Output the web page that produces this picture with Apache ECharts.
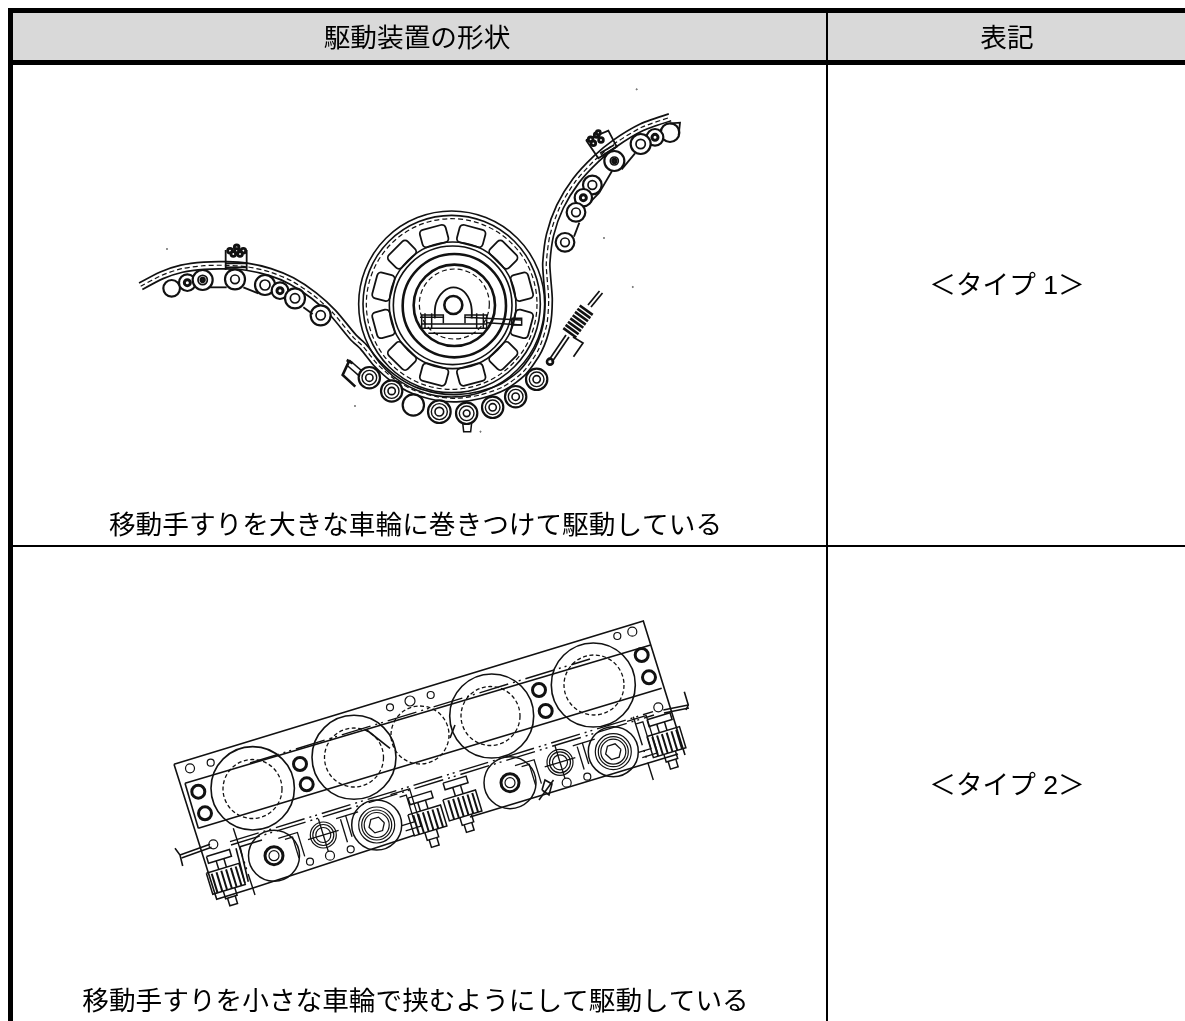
<!DOCTYPE html>
<html lang="ja">
<head>
<meta charset="utf-8">
<title>駆動装置の形状</title>
<style>html,body{margin:0;padding:0;background:#fff}#c{width:1185px;height:1021px}</style>
<script src="https://cdn.jsdelivr.net/npm/echarts@6/dist/echarts.min.js"></script>
</head>
<body>
<div id="c"></div>
<script>
// ---------- table ----------
const headerFill = [[13,13,1185,60]];
const tableBars = [[8,8,1185,13],[8,8,13,1021],[8,60,1185,65],[826,13,828,1021],[13,545,1185,547]];
const tableTexts = [
  ['駆動装置の形状',417,40],['表記',1007,40],
  ['＜タイプ 1＞',1007,287],['＜タイプ 2＞',1007,787],
  ['移動手すりを大きな車輪に巻きつけて駆動している',415.5,527],
  ['移動手すりを小さな車輪で挟むようにして駆動している',415.5,1003]
];
// ---------- type 1: handrail centre line ----------
const railCentre = [[140.7,286.3],[161.7,275.3],[181.7,268.7],[204,265.7],[226.7,265.3],[246.7,266.7],[270,272],[291.7,281],[314,295.7],[333.3,313.3],[353.3,337.3],[363.3,346.7],[376.7,363.3],[393.3,378.3],[413.3,390],[436.7,396.7],[456.7,398.3],[480,395],[503.3,386.7],[523.3,371.7],[538.3,350],[546.7,325],[548.7,300],[547,276.7],[546.3,263],[550,235],[560,206.7],[576,180.7],[596,159],[615,143.3],[641.7,127.3],[670,117.3]];
// ---------- type 1: wheel (3x crop units) ----------
const wheelRings = [[335,312,279],[335,312,266],[338,316,190],[338,316,178]];
const wheelHeavyRings = [[343,317,155],[343,316,122],[340,315,27],[630,485,9]];
const wheelDashRings = [[335,312,256],[343,312,105]];
const windowAngles = [15,45,75,105,135,165,195,225,255,285,315,345];
const wheelLines = [
  [[240,352],[310,352],[310,345],[245,345],[245,385],[440,385],[440,345],[375,345],[375,352],[545,360]],
  [[245,372],[440,372]],[[440,368],[545,375]],[[515,355],[545,355],[545,375],[515,375],[515,355]],
  [[255,340],[255,385]],[[275,340],[275,385]],[[410,340],[410,385]],[[430,340],[430,385]],
  [[310,352],[310,370]],[[375,352],[375,370]],[[265,400],[430,400]],
  [[28,480],[68,515]],[[20,495],[60,530]],[[68,515],[60,530]],[[368,668],[395,668],[392,695],[371,695],[368,668]]
];
const hubArch = [[[285,355],[288,310],[310,275],[340,262],[372,275],[392,310],[395,355]]];
const wheelHeavyLines = [[[28,482],[8,525],[46,560]],[[20,480],[38,490]]];
const wheelRollers = [[88,533,32],[155,573,32],[220,615,32],[298,635,34],[380,640,32],[458,622,32],[527,590,32],[590,538,32]];
const wheelRollerMid = [[88,533,22],[155,573,22],[298,635,24],[380,640,22],[458,622,22],[527,590,22],[590,538,22]];
const wheelRollerInner = [[88,533,11],[155,573,11],[298,635,13],[380,640,10],[458,622,11],[527,590,11],[590,538,11]];
// ---------- type 1: left arm (3x crop units) ----------
const leftRollers = [[125,175,25],[172,158,25],[218,150,30],[315,148,30],[405,165,30],[450,182,25],[495,205,30],[572,256,30]];
const leftRollerInner = [[218,150,14],[315,148,13],[405,165,15],[495,205,14],[572,256,14]];
const leftRollerBold = [[172,158,9],[218,150,5],[450,182,9]];
const leftLines = [[[235,172],[290,172]],[[340,172],[385,190]],[[520,232],[548,252]],[[287,60],[287,120]],[[350,60],[350,120]],[[287,100],[350,100]],[[287,112],[350,112]]];
const leftBolts = [[300,62,7],[320,52,7],[340,62,7],[310,72,7],[330,72,7],[320,62,6]];
// ---------- type 1: right arm (3x crop units) ----------
const rightRollers = [[510,128,28],[465,142,25],[422,162,30],[343,213,30],[277,285,28],[250,323,26],[228,367,28],[195,457,28]];
const rightRollerInner = [[422,162,14],[343,213,12],[277,285,13],[228,367,13],[195,457,13]];
const rightRollerBold = [[465,142,9],[250,323,9],[343,213,5]];
const rightLines = [[[222,440],[238,398]],[[272,335],[298,308]],[[298,308],[336,243]],[[365,238],[405,190]],[[258,150],[325,122],[350,170],[295,205],[258,150]],[[300,190],[342,165]],[[305,198],[347,172]],[[510,100],[540,98],[536,135]]];
const rightBolts = [[272,148,7],[290,135,7],[303,150,7],[280,160,7],[295,128,6]];
// ---------- type 1: tensioner spring (px) ----------
const springCoils = [[[563.3,328.1],[576.3,337.5]],[[565.6,324.9],[578.6,334.3]],[[568,321.7],[581,331.1]],[[570.3,318.4],[583.3,327.8]],[[572.7,315.2],[585.7,324.6]],[[575,311.9],[588,321.3]],[[577.4,308.7],[590.4,318.1]],[[579.7,305.5],[592.7,314.9]]];
const springLines = [[[549,360],[566,335]],[[552,362],[569,337]],[[588,305],[599.5,291]],[[591,307],[602.5,293]],[[573,337],[583,343],[573.5,356.7]]];
const specks = [[636.7,89.3],[167,249],[604,238],[632.8,287],[355,406],[480.5,431.7]];
// ---------- type 2: drive plate (px) ----------
const plateLines = [
  [[174,764.3],[643.3,621],[685,755]],[[174,764.3],[216.7,899.3],[253,888],[415,835]],[[470,817],[678,754]],
  [[185,783.3],[650.7,645]],[[198.3,828.3],[661.7,688.3]],[[185,783.3],[198.3,828.3]],
  [[236,848.3],[245,883.3]],[[240,846.7],[248.3,881.7]],[[240,846.7],[262,840]],
  [[180,855],[210,844.3]],[[181.5,858],[211.5,847.3]],[[175,848.3],[180,855],[182.7,866]],
  [[663.3,710],[688.3,705]],[[664,713],[689,708]],[[684.3,691.7],[688.3,705],[686,710]],
  [[366.7,730],[390,748.3]],[[455,725],[450,738]],[[539,800],[553.5,780]],[[542,790],[549,795],[552,784],[545,780],[542,790]]
];
const plateDashLines = [[[230,841.7],[653,711.7]],[[231,845],[654,715]],[[250,763],[590,659]],[[233.3,828.3],[255,895]],[[633.3,716.7],[653.3,780]]];
const driveWheels = [[252.7,788.3,41.7],[354,757.3,42],[491.7,716,42],[593.3,685,42]];
const pinchWheels = [[274,855.7,25.5],[376.7,825,25],[510,782.7,26],[613.3,751.7,25]];
const dashWheels = [[252.5,789,29.5],[354,757.5,29.5],[420,735,29],[490.5,716,29.5],[594,685,30]];
const boldHoles = [[198.3,791.7,6.5],[205,813.3,6.5],[300,764,6.5],[306.7,784.3,6.5],[539,690,6.5],[545.7,711,6.5],[641.7,655,6.5],[649,677.3,6.5],[274,855.7,9],[510,782.7,9]];
const thinHoles = [[190,768.3,4.5],[210.7,762.7,3.5],[390,707.3,3.5],[410,701,5],[430.7,695,3.5],[617.3,636,3.5],[632.3,631.7,4.5],[310,861.7,3.5],[330,855.7,4.5],[350.7,849.3,3.5],[566.7,782.7,4.5],[587.3,776.7,3.5],[213.3,844.3,4.5],[658.3,707.3,4.5],[274,855.7,5],[510,782.7,5],[376.7,825,18],[376.7,825,15],[376.7,825,12.5],[613.3,751.7,18],[613.3,751.7,15],[613.3,751.7,12.5],[323.3,835,13],[323.3,835,10.5],[323.3,835,7.5],[560,762.3,13],[560,762.3,10.5],[560,762.3,7.5]];
const clampCentres = [[226.7,881.7],[428.3,823.3],[463.3,808.3],[667.3,745]];
const clampShape = [
  [[-12,-30],[12,-30],[12,-23],[-12,-23],[-12,-30]],[[-4,-23],[-4,-14]],[[4,-23],[4,-14]],
  [[-17,-14],[17,-14],[17,8],[-17,8],[-17,-14]],[[-6,8],[-6,16],[6,16],[6,8]],[[-4,16],[-4,24],[4,24],[4,16]]
];
const clampFins = [[[-12,-12],[-12,8]],[[-7,-12],[-7,8]],[[-2,-12],[-2,8]],[[3,-12],[3,8]],[[8,-12],[8,8]],[[13,-12],[13,8]]];
const boltCentres = [[323.3,835],[560,762.3]];
const boltShape = [[[-16,0],[16,0]],[[0,-17],[0,17]],[[-44,-10],[-24,-10],[-24,15]],[[-38,-7],[-30,-7],[-30,15]],[[17,-12],[40,-12]],[[21,-10],[21,14]],[[27,-12],[27,10]]];
const hubCentres = [[376.7,825],[613.3,751.7]];
const hubShape = [[[8,0],[4,-7],[-4,-7],[-8,0],[-4,7],[4,7],[8,0]],[[22,-25],[42,-25],[42,14],[26,14]],[[30,-20],[37,-20],[37,8],[24,8]]];

// ---------- drawing helpers ----------
const INK = '#111';
const grids = [[0,0,1185,1021,1],[340,200,240,240,3],[130,230,240,180,3],[500,90,200,240,3]];
const T = 0, W = 1, L = 2, R = 3;
const axisBase = {type:'value',show:false,scale:true,splitLine:{show:false}};
function place(c, s, t){ return [c[0] + s*0.9565 + t*0.2918, c[1] - s*0.2918 + t*0.9565]; }
function stamp(centres, shape){ return centres.flatMap(c => shape.map(line => line.map(p => place(c,p[0],p[1])))); }
function offsetLine(pts, d){
  return pts.map((p,i) => {
    const a = pts[Math.max(i-1,0)], b = pts[Math.min(i+1,pts.length-1)];
    const dx = b[0]-a[0], dy = b[1]-a[1], n = Math.hypot(dx,dy) || 1;
    return [p[0]-dy/n*d, p[1]+dx/n*d];
  });
}
function custom(grid, rows, renderOne){
  return {type:'custom',xAxisIndex:grid,yAxisIndex:grid,coordinateSystem:'cartesian2d',silent:true,clip:false,
    data:rows.map((_,i)=>[i,i]),encode:{x:0,y:1},
    renderItem:(params,api)=>renderOne(rows[params.dataIndex],api)};
}
function circles(grid, rows, lw, opt){
  opt = opt || {};
  return custom(grid, rows, (r,api)=>{
    const c = api.coord([r[0],r[1]]);
    return {type:'circle',shape:{cx:c[0],cy:c[1],r:api.size([r[2],r[2]])[0]},
      style:{fill:opt.fill||'none',stroke:INK,lineWidth:lw,lineDash:opt.dash||null}};
  });
}
function lines(grid, rows, lw, opt){
  opt = opt || {};
  return custom(grid, rows, (r,api)=>({type:'polyline',shape:{points:r.map(p=>api.coord(p)),smooth:opt.smooth||0},
    style:{fill:'none',stroke:INK,lineWidth:lw,lineDash:opt.dash||null,lineCap:'butt'}}));
}
function bars(grid, rows, color){
  return custom(grid, rows, (r,api)=>{
    const a = api.coord([r[0],r[1]]), b = api.coord([r[2],r[3]]);
    return {type:'rect',shape:{x:a[0],y:a[1],width:b[0]-a[0],height:b[1]-a[1]},style:{fill:color}};
  });
}
const wheelWindows = custom(W, windowAngles, (a,api)=>{
  const rad = a*Math.PI/180, c = api.coord([338+215*Math.cos(rad),316-215*Math.sin(rad)]);
  const w = api.size([80,0])[0], h = api.size([0,54])[1];
  return {type:'rect',x:c[0],y:c[1],rotation:(a-90)*Math.PI/180,
    shape:{x:-w/2,y:-h/2,width:w,height:h,r:4},style:{fill:'none',stroke:INK,lineWidth:1.8}};
});
const texts = custom(T, tableTexts, (r,api)=>{
  const c = api.coord([r[1],r[2]]);
  return {type:'text',x:c[0],y:c[1],style:{text:r[0],fill:'#000',align:'center',verticalAlign:'middle',
    font:'26.67px "Liberation Sans","Noto Sans CJK JP"'}};
});

const series = [
  bars(T, headerFill, '#d9d9d9'), bars(T, tableBars, '#000'),
  // type 1
  circles(W, wheelRings, 1.6), circles(W, wheelHeavyRings, 2.6), circles(W, wheelDashRings, 1.2, {dash:[5,3]}),
  wheelWindows, lines(W, wheelLines, 1.5), lines(W, hubArch, 1.8, {smooth:0.4}), lines(W, wheelHeavyLines, 2.6),
  lines(T, [offsetLine(railCentre,-3.6), offsetLine(railCentre,3.6)], 1.7, {smooth:0.25}),
  lines(T, [railCentre], 1.2, {smooth:0.25, dash:[5,3]}),
  circles(W, wheelRollers, 2.2, {fill:'#fff'}), circles(W, wheelRollerMid, 1.4), circles(W, wheelRollerInner, 1.6),
  circles(L, leftRollers, 2.2, {fill:'#fff'}), circles(L, leftRollerInner, 1.7), circles(L, leftRollerBold, 3),
  lines(L, leftLines, 1.8), circles(L, leftBolts, 2.8, {fill:'#fff'}),
  circles(R, rightRollers, 2.2, {fill:'#fff'}), circles(R, rightRollerInner, 1.7), circles(R, rightRollerBold, 3),
  lines(R, rightLines, 1.8), circles(R, rightBolts, 2.8, {fill:'#fff'}),
  lines(T, springCoils, 2.6), lines(T, springLines, 1.7), circles(T, specks.map(p=>[p[0],p[1],0.6]), 0.6),
  // type 2
  lines(T, plateLines, 1.6), lines(T, plateDashLines, 1.4, {dash:[30,5,2,4,2,5]}),
  circles(T, driveWheels, 1.6), circles(T, pinchWheels, 1.5), circles(T, dashWheels, 1.3, {dash:[4,2.5]}),
  circles(T, boldHoles, 3), circles(T, thinHoles, 1.2),
  lines(T, stamp(clampCentres, clampShape), 1.5), lines(T, stamp(clampCentres, clampFins), 2),
  lines(T, stamp(boltCentres, boltShape), 1.3), lines(T, stamp(hubCentres, hubShape), 1.3),
  texts
];

const chart = echarts.init(document.getElementById('c'), null, {renderer:'canvas'});
chart.setOption({
  animation:false,backgroundColor:'#fff',tooltip:{show:false},
  grid:grids.map(g=>({left:g[0],top:g[1],width:g[2],height:g[3],containLabel:false,show:false})),
  xAxis:grids.map((g,i)=>Object.assign({},axisBase,{gridIndex:i,min:0,max:g[2]*g[4]})),
  yAxis:grids.map((g,i)=>Object.assign({},axisBase,{gridIndex:i,min:0,max:g[3]*g[4],inverse:true})),
  series:series.map((s,i)=>Object.assign(s,{z:2,zlevel:0}))
});
</script>
</body>
</html>
